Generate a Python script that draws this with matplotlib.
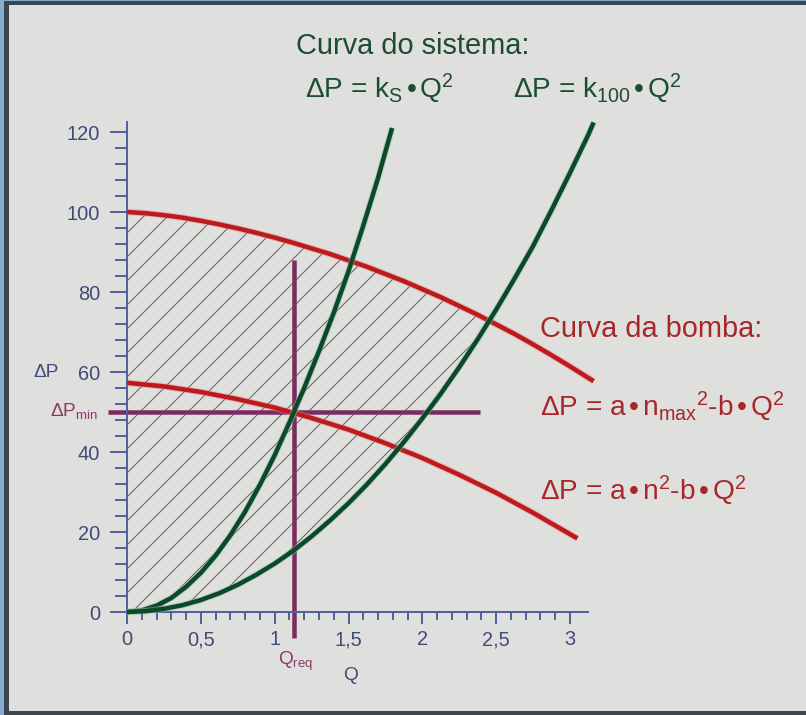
import numpy as np
import matplotlib
matplotlib.use('Agg')
import matplotlib.pyplot as plt
from matplotlib.patches import Rectangle
from matplotlib.ticker import FixedLocator, FixedFormatter
import matplotlib.patheffects as pe

# flow Q and pressure dP
q_grid = [0, 0.125, 0.25, 0.375, 0.5, 0.625, 0.75, 0.875, 1.0, 1.125, 1.25, 1.375,
          1.5, 1.625, 1.75, 1.875, 2.0, 2.125, 2.25, 2.375, 2.5, 2.625, 2.75, 2.875,
          3.0, 3.125, 3.16]
dp_nmax = [100, 99.7, 99.2, 98.6, 97.8, 96.9, 95.9, 94.8, 93.6, 92.3, 90.9, 89.5,
           87.9, 86.3, 84.5, 82.7, 80.7, 78.7, 76.5, 74.3, 71.9, 69.5, 66.9, 64.2,
           61.4, 58.5, 57.7]
dp_k100 = [0, 0.2, 0.8, 1.7, 3.0, 4.7, 6.8, 9.3, 12.1, 15.3, 18.9, 22.9,
           27.2, 31.9, 37.0, 42.5, 48.4, 54.6, 61.2, 68.2, 75.6, 83.4, 91.5, 100.5,
           109.8, 119.4, 122.4]

q_n  = [0, 0.25, 0.5, 0.75, 1.0, 1.25, 1.5, 1.75, 2.0, 2.25, 2.5, 2.75, 3.05]
dp_n = [57.3, 56.4, 55.0, 53.2, 51.1, 48.5, 45.6, 42.2, 38.5, 34.3, 29.8, 24.8, 18.4]

q_s  = [0, 0.1, 0.2, 0.3, 0.4, 0.5, 0.6, 0.7, 0.8, 0.9, 1.0, 1.1, 1.13,
        1.2, 1.3, 1.4, 1.5, 1.6, 1.7, 1.795]
dp_s = [0, 0.4, 1.6, 3.5, 6.3, 9.8, 14.1, 19.2, 25.1, 31.8, 39.2, 47.4, 50.0,
        56.0, 65.2, 74.8, 85.2, 96.6, 108.5, 121.0]

q_req  = 1.13
dp_min = 50

y_ticks = [0, 20, 40, 60, 80, 100, 120]
x_ticks = [0, 0.5, 1, 1.5, 2, 2.5, 3]
x_tick_labels = ['0', '0,5', '1', '1,5', '2', '2,5', '3']

plt.rcParams['font.family'] = ['Liberation Sans', 'DejaVu Sans']
plt.rcParams['mathtext.fontset'] = 'custom'
plt.rcParams['mathtext.rm'] = 'Liberation Sans'
plt.rcParams['mathtext.it'] = 'Liberation Sans'
plt.rcParams['hatch.linewidth'] = 1.0

W, H, DPI = 806, 715, 72
bg = '#dfdfdd'
red = '#bd1a1e'
green = '#0a4a2a'
purple = '#7a2c62'
axis_col = '#52629a'
tick_col = '#3e4c77'
green_txt = '#1d4c36'
red_txt = '#a8282a'
pink_txt = '#8c3a6c'

fig = plt.figure(figsize=(W / DPI, H / DPI), dpi=DPI)
fig.patch.set_facecolor(bg)

# window frame
def frame(x, y, w, h, c):
    fig.add_artist(Rectangle((x / W, y / H), w / W, h / H, transform=fig.transFigure,
                             facecolor=c, edgecolor='none', zorder=10))

frame(0, 0, 4, H, '#86acd0')
frame(4, 0, 5, H, '#3c4650')
frame(0, H - 1, W, 1, '#86acd0')
frame(4, H - 5, W, 4, '#3c4650')
frame(4, 0, W, 4, '#3c4650')

# axes spans the whole figure; data origin placed at (127, 612) px
px_q, px_p = 147.67, 4.0
ax = fig.add_axes([0, 0, 1, 1])
ax.set_xlim(-127 / px_q, (W - 127) / px_q)
ax.set_ylim(-(H - 612) / px_p, 612 / px_p)
ax.patch.set_visible(False)

for s in ['top', 'right']:
    ax.spines[s].set_visible(False)
ax.spines['left'].set_position(('data', 0))
ax.spines['bottom'].set_position(('data', 0))
ax.spines['left'].set_bounds(0, 122.5)
ax.spines['bottom'].set_bounds(0, 3.12)
for s in ['left', 'bottom']:
    ax.spines[s].set_color(axis_col)
    ax.spines[s].set_linewidth(2)

ax.yaxis.set_major_locator(FixedLocator(y_ticks))
ax.yaxis.set_minor_locator(FixedLocator(np.arange(0, 121, 4)))
ax.xaxis.set_major_locator(FixedLocator(x_ticks))
ax.xaxis.set_minor_locator(FixedLocator(np.arange(0, 3.05, 0.1)))
ax.xaxis.set_major_formatter(FixedFormatter(x_tick_labels))
ax.tick_params(axis='y', which='major', direction='out', length=17, width=2,
               color=axis_col, labelcolor=tick_col, labelsize=20, pad=10)
ax.tick_params(axis='y', which='minor', direction='out', length=12, width=2, color=axis_col)
ax.tick_params(axis='x', which='major', direction='out', length=12, width=2,
               color=axis_col, labelcolor=tick_col, labelsize=20, pad=6)
ax.tick_params(axis='x', which='minor', direction='out', length=8, width=2, color=axis_col)

# operating area between the max pump curve and k100 system curve
top = np.array(dp_nmax)
bot = np.array(dp_k100)
ax.fill_between(q_grid, bot, top, where=top >= bot, interpolate=True,
                facecolor='none', edgecolor='#606060', hatch='/', linewidth=0, zorder=1)

glow_r = [pe.Stroke(linewidth=6.5, foreground='#e88a8a', alpha=0.5), pe.Normal()]
glow_g = [pe.Stroke(linewidth=6.5, foreground='#9cc2a8', alpha=0.5), pe.Normal()]

ax.vlines(q_req, -6.5, 88, color=purple, lw=4.5, zorder=2)
ax.hlines(dp_min, -0.13, 2.39, color=purple, lw=4.5, zorder=2)

line_kw = dict(lw=4.5, solid_capstyle='butt', solid_joinstyle='round')
ax.plot(q_grid, dp_nmax, color=red, zorder=3, path_effects=glow_r, **line_kw)
ax.plot(q_n, dp_n, color=red, zorder=3, path_effects=glow_r, **line_kw)
ax.plot(q_s, dp_s, color=green, zorder=4, path_effects=glow_g, **line_kw)
ax.plot(q_grid, dp_k100, color=green, zorder=4, path_effects=glow_g, **line_kw)

# labels
ax.text(1.144, 139.5, 'Curva do sistema:', fontsize=29, color=green_txt, va='baseline')
ax.text(1.205, 128.5, r'ΔP = k$_\mathregular{S}$$\,$•$\,$Q$^\mathregular{2}$', fontsize=28,
        color=green_txt, va='baseline')
ax.text(2.614, 128.5, r'ΔP = k$_\mathregular{100}$$\,$•$\,$Q$^\mathregular{2}$', fontsize=28,
        color=green_txt, va='baseline')

ax.text(2.797, 68.8, 'Curva da bomba:', fontsize=29, color=red_txt, va='baseline')
ax.text(2.797, 48.8,
        r'ΔP = a$\,$•$\,$n$_\mathregular{max}$$^\mathregular{2}$-b$\,$•$\,$Q$^\mathregular{2}$',
        fontsize=28, color=red_txt, va='baseline')
ax.text(2.797, 28.0, r'ΔP = a$\,$•$\,$n$^\mathregular{2}$-b$\,$•$\,$Q$^\mathregular{2}$',
        fontsize=28, color=red_txt, va='baseline')

ax.text(-0.637, 58.8, 'ΔP', fontsize=19, color=tick_col, va='baseline')
ax.text(-0.521, 49.0, r'ΔP$_\mathregular{min}$', fontsize=19, color=pink_txt, va='baseline')
ax.text(1.022, -13.25, r'Q$_\mathregular{req}$', fontsize=19, color=pink_txt, va='baseline')
ax.text(1.463, -17.0, 'Q', fontsize=19, color=tick_col, va='baseline')

fig.savefig('out.png', dpi=DPI, facecolor=bg)
